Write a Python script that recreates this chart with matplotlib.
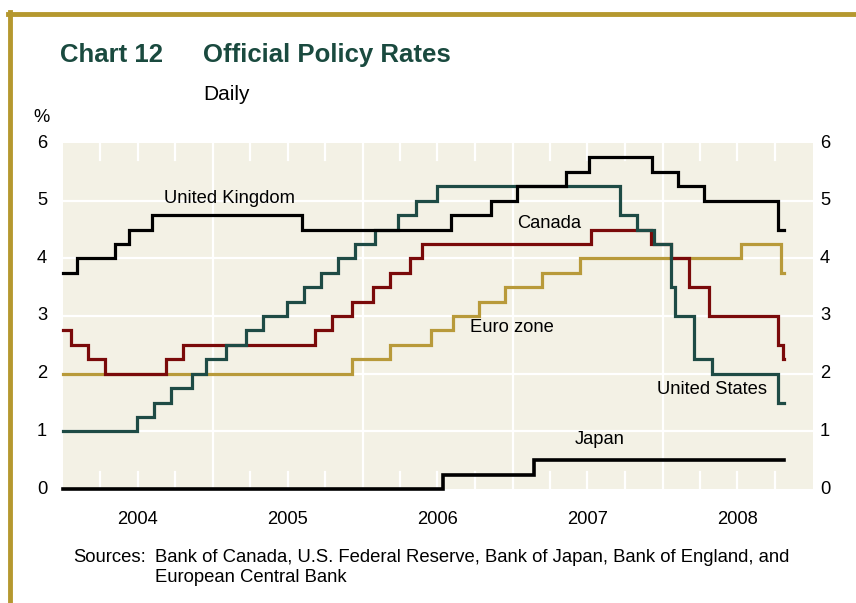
import matplotlib
matplotlib.use("Agg")
import matplotlib.pyplot as plt
import matplotlib.dates as mdates
from matplotlib.lines import Line2D
from datetime import datetime

plt.rcParams['font.family'] = ['Liberation Sans', 'DejaVu Sans']

START = "2004-01-01"
END = "2008-10-23"

uk_dates = [START, "2004-02-05", "2004-05-06", "2004-06-10", "2004-08-05", "2005-08-04",
            "2006-08-03", "2006-11-09", "2007-01-11", "2007-05-10", "2007-07-05",
            "2007-12-06", "2008-02-07", "2008-04-10", "2008-10-08"]
uk_rates = [3.75, 4.00, 4.25, 4.50, 4.75, 4.50, 4.75, 5.00, 5.25, 5.50, 5.75, 5.50, 5.25, 5.00, 4.50]

ca_dates = [START, "2004-01-20", "2004-03-02", "2004-04-13", "2004-09-08", "2004-10-19",
            "2005-09-07", "2005-10-18", "2005-12-06", "2006-01-24", "2006-03-07",
            "2006-04-25", "2006-05-24", "2007-07-10", "2007-12-04", "2008-01-22",
            "2008-03-04", "2008-04-22", "2008-10-08", "2008-10-21"]
ca_rates = [2.75, 2.50, 2.25, 2.00, 2.25, 2.50, 2.75, 3.00, 3.25, 3.50, 3.75, 4.00, 4.25,
            4.50, 4.25, 4.00, 3.50, 3.00, 2.50, 2.25]

us_dates = [START, "2004-06-30", "2004-08-10", "2004-09-21", "2004-11-10", "2004-12-14",
            "2005-02-02", "2005-03-22", "2005-05-03", "2005-06-30", "2005-08-09",
            "2005-09-20", "2005-11-01", "2005-12-13", "2006-01-31", "2006-03-28",
            "2006-05-10", "2006-06-29", "2007-09-18", "2007-10-31", "2007-12-11",
            "2008-01-22", "2008-01-30", "2008-03-18", "2008-04-30", "2008-10-08"]
us_rates = [1.00, 1.25, 1.50, 1.75, 2.00, 2.25, 2.50, 2.75, 3.00, 3.25, 3.50, 3.75, 4.00,
            4.25, 4.50, 4.75, 5.00, 5.25, 4.75, 4.50, 4.25, 3.50, 3.00, 2.25, 2.00, 1.50]

ez_dates = [START, "2005-12-06", "2006-03-08", "2006-06-15", "2006-08-09", "2006-10-11",
            "2006-12-13", "2007-03-14", "2007-06-13", "2008-07-09", "2008-10-15"]
ez_rates = [2.00, 2.25, 2.50, 2.75, 3.00, 3.25, 3.50, 3.75, 4.00, 4.25, 3.75]

jp_dates = [START, "2006-07-14", "2007-02-21"]
jp_rates = [0.00, 0.25, 0.50]

year_labels = ["2004", "2005", "2006", "2007", "2008"]
y_ticks = [0, 1, 2, 3, 4, 5, 6]

BG = "#F3F1E5"
GOLD = "#B5982F"
TITLE = "#1A4A3F"

def d(s):
    return datetime.strptime(s, "%Y-%m-%d")

fig = plt.figure(figsize=(8.56, 6.03), dpi=100)
ax = fig.add_axes([63/856, 1-489/603, 750/856, (489-143)/603])
ax.set_facecolor(BG)
ax.set_xlim(d("2004-01-01"), d("2009-01-01"))
ax.set_ylim(0, 6)
for s in ax.spines.values():
    s.set_visible(False)

# gridlines
for yv in y_ticks[1:-1]:
    ax.axhline(yv, color="white", lw=1.6, zorder=1)
for yr in [2005, 2006, 2007, 2008]:
    ax.axvline(datetime(yr, 1, 1), color="white", lw=1.6, zorder=1)
# quarterly ticks inside top and bottom
for yr in range(2004, 2009):
    for m in (4, 7, 10):
        x = mdates.date2num(datetime(yr, m, 1))
        ax.plot([x, x], [0, 0.29], color="white", lw=1.6, zorder=1)
        ax.plot([x, x], [6 - 0.29, 6], color="white", lw=1.6, zorder=1)

def draw(dates, rates, color, lw=2.3):
    xs = [d(s) for s in dates] + [d(END)]
    ys = list(rates) + [rates[-1]]
    ax.step(xs, ys, where="post", color=color, lw=lw, zorder=3, clip_on=False,
            solid_joinstyle="miter")

draw(ez_dates, ez_rates, "#B89A3A")
draw(ca_dates, ca_rates, "#7A0A0A")
draw(us_dates, us_rates, "#1E4B45")
draw(uk_dates, uk_rates, "#000000")
draw(jp_dates, jp_rates, "#000000", lw=2.6)

ax.set_xticks([])
ax.set_yticks([])

def px(xp, yp):
    return (xp / 856, 1 - yp / 603)

fs = 13.2
# y tick labels
for yv in y_ticks:
    ypix = 489 - yv * (489 - 143) / 6
    fig.text(*px(47, ypix), str(yv), ha="right", va="center", fontsize=fs)
    fig.text(*px(820, ypix), str(yv), ha="left", va="center", fontsize=fs)
fig.text(*px(42, 117), "%", ha="center", va="center", fontsize=fs)

# year labels
for i, lab in enumerate(year_labels):
    fig.text(*px(138 + 150 * i, 519), lab, ha="center", va="center", fontsize=fs)

# series labels
fig.text(*px(230, 199), "United Kingdom", ha="center", va="center", fontsize=fs)
fig.text(*px(549, 224), "Canada", ha="center", va="center", fontsize=fs)
fig.text(*px(512, 328), "Euro zone", ha="center", va="center", fontsize=fs)
fig.text(*px(712, 389), "United States", ha="center", va="center", fontsize=fs)
fig.text(*px(600, 440), "Japan", ha="center", va="center", fontsize=fs)

# titles
fig.text(*px(60, 55), "Chart 12", ha="left", va="center", fontsize=18.5,
         fontweight="bold", color=TITLE)
fig.text(*px(203, 55), "Official Policy Rates", ha="left", va="center", fontsize=18.5,
         fontweight="bold", color=TITLE)
fig.text(*px(203, 94), "Daily", ha="left", va="center", fontsize=15)

# sources
sfs = 13.3
fig.text(*px(73, 557), "Sources:", ha="left", va="center", fontsize=sfs)
fig.text(*px(155, 557), "Bank of Canada, U.S. Federal Reserve, Bank of Japan, Bank of England, and",
         ha="left", va="center", fontsize=sfs)
fig.text(*px(155, 577), "European Central Bank", ha="left", va="center", fontsize=sfs)

# border
fig.add_artist(Line2D([8/856, 1], [1 - 14/603, 1 - 14/603], color=GOLD, lw=3.5,
                      transform=fig.transFigure))
fig.add_artist(Line2D([10/856, 10/856], [0, 1 - 12/603], color=GOLD, lw=3.5,
                      transform=fig.transFigure))

fig.savefig("out.png", dpi=100)
